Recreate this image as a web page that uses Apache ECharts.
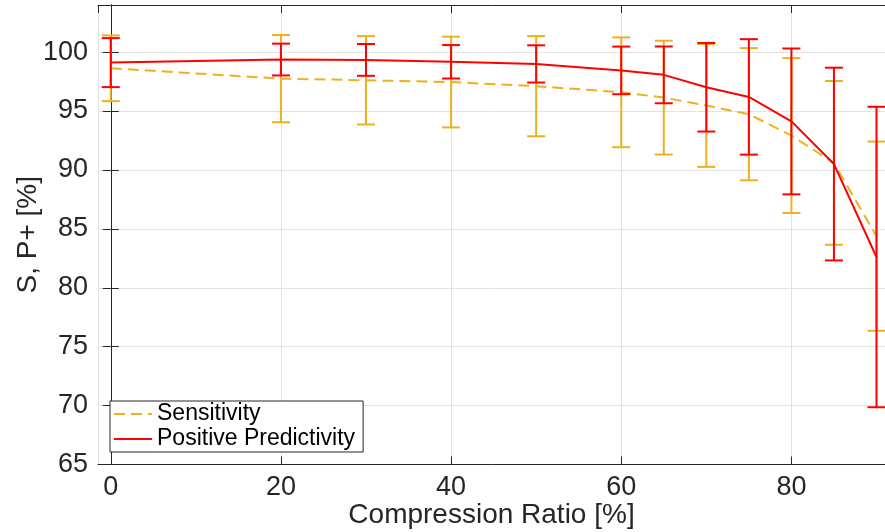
<!DOCTYPE html>
<html>
<head>
<meta charset="utf-8">
<script src="https://cdn.jsdelivr.net/npm/echarts@6/dist/echarts.min.js"></script>
<style>
  html, body { margin: 0; padding: 0; background: #fff; }
  #chart { width: 885px; height: 532px; }
</style>
</head>
<body>
<div id="chart"></div>
<script>
// Compression ratio (%) at which each detector run was evaluated
const compressionRatio = [0, 20, 30, 40, 50, 60, 65, 70, 75, 80, 85, 90];

// Sensitivity: mean and standard deviation (%)
const sensitivityMean = [98.63, 97.75, 97.61, 97.46, 97.11, 96.59, 96.14, 95.47, 94.73, 92.92, 90.6, 84.38];
const sensitivityStd  = [2.79, 3.70, 3.75, 3.85, 4.25, 4.66, 4.83, 5.21, 5.61, 6.57, 6.95, 8.03];

// Positive predictivity: mean and standard deviation (%)
const ppMean = [99.11, 99.37, 99.34, 99.18, 99.0, 98.45, 98.07, 97.02, 96.2, 94.12, 90.5, 82.61];
const ppStd  = [2.08, 1.35, 1.35, 1.42, 1.58, 2.02, 2.41, 3.76, 4.9, 6.19, 8.18, 12.75];

const yTicks = [65, 70, 75, 80, 85, 90, 95, 100];

const SENS_COLOR = '#EDB120';
const PP_COLOR = '#FF0000';
const INK = '#262626';
const FONT = '"Liberation Sans", Arial, Helvetica, sans-serif';

function linePoints(means) {
  return compressionRatio.map((x, i) => [x, means[i]]);
}
function barPoints(means, stds) {
  return compressionRatio.map((x, i) => [x, means[i] - stds[i], means[i] + stds[i]]);
}

// Vertical error bar with caps at both ends
function errorBarRenderer(color) {
  return function (params, api) {
    const x = api.value(0);
    const lo = api.coord([x, api.value(1)]);
    const hi = api.coord([x, api.value(2)]);
    const half = 9;
    const style = { stroke: color, lineWidth: 2, fill: null };
    return {
      type: 'group',
      children: [
        { type: 'line', shape: { x1: lo[0], y1: lo[1], x2: hi[0], y2: hi[1] }, style },
        { type: 'line', shape: { x1: lo[0] - half, y1: lo[1], x2: lo[0] + half, y2: lo[1] }, style },
        { type: 'line', shape: { x1: hi[0] - half, y1: hi[1], x2: hi[0] + half, y2: hi[1] }, style }
      ]
    };
  };
}

const chart = echarts.init(document.getElementById('chart'), null, { renderer: 'canvas' });

const axisLine = { show: true, lineStyle: { color: INK, width: 1 } };
const tickIn = { show: true, inside: true, length: 8, lineStyle: { color: INK, width: 1 } };

chart.setOption({
  animation: false,
  backgroundColor: '#fff',
  textStyle: { fontFamily: FONT },
  grid: { left: 98, top: 5, width: 787, height: 459.5, containLabel: false, outerBoundsMode: 'none' },
  legend: {
    left: 110,
    top: 401,
    orient: 'vertical',
    data: ['Sensitivity', 'Positive Predictivity'],
    backgroundColor: '#fff',
    borderColor: INK,
    borderWidth: 1,
    borderRadius: 0,
    padding: [1, 8, 1, 3],
    itemWidth: 38,
    itemHeight: 14,
    itemGap: 1,
    itemStyle: { opacity: 0 },
    textStyle: { fontSize: 23, color: '#000', fontFamily: FONT, lineHeight: 24 }
  },
  xAxis: [
    {
      type: 'value',
      min: -1.5,
      max: 91,
      minInterval: 20,
      maxInterval: 20,
      position: 'bottom',
      name: 'Compression Ratio [%]',
      nameLocation: 'middle',
      nameGap: 37,
      nameMoveOverlap: false,
      nameTextStyle: { fontSize: 28, color: INK, fontFamily: FONT },
      axisLine,
      axisTick: tickIn,
      axisLabel: { fontSize: 27, color: INK, margin: 10, showMinLabel: false, showMaxLabel: false, fontFamily: FONT },
      splitLine: { show: true, lineStyle: { color: '#e3e3e3', width: 1 } }
    },
    {
      type: 'value',
      min: -1.5,
      max: 91,
      minInterval: 20,
      maxInterval: 20,
      position: 'top',
      axisLine,
      axisTick: tickIn,
      axisLabel: { show: false },
      splitLine: { show: false }
    }
  ],
  yAxis: [
    {
      type: 'value',
      min: yTicks[0],
      max: 104,
      interval: 5,
      position: 'left',
      name: 'S, P+ [%]',
      nameLocation: 'middle',
      nameGap: 56,
      nameMoveOverlap: false,
      nameTextStyle: { fontSize: 28, color: INK, fontFamily: FONT },
      axisLine,
      axisTick: tickIn,
      axisLabel: { fontSize: 27, color: INK, margin: 10, showMaxLabel: false, fontFamily: FONT },
      splitLine: { show: true, lineStyle: { color: '#e3e3e3', width: 1 } }
    },
    {
      type: 'value',
      min: yTicks[0],
      max: 104,
      interval: 5,
      position: 'right',
      axisLine,
      axisTick: tickIn,
      axisLabel: { show: false },
      splitLine: { show: false }
    }
  ],
  series: [
    {
      name: 'Sensitivity bars',
      type: 'custom',
      renderItem: errorBarRenderer(SENS_COLOR),
      encode: { x: 0, y: [1, 2] },
      data: barPoints(sensitivityMean, sensitivityStd),
      z: 2
    },
    {
      name: 'Sensitivity',
      type: 'line',
      data: linePoints(sensitivityMean),
      symbol: 'none',
      color: SENS_COLOR,
      lineStyle: { color: SENS_COLOR, width: 2, type: [11, 6] },
      z: 3
    },
    {
      name: 'Positive Predictivity bars',
      type: 'custom',
      renderItem: errorBarRenderer(PP_COLOR),
      encode: { x: 0, y: [1, 2] },
      data: barPoints(ppMean, ppStd),
      z: 4
    },
    {
      name: 'Positive Predictivity',
      type: 'line',
      data: linePoints(ppMean),
      symbol: 'none',
      color: PP_COLOR,
      lineStyle: { color: PP_COLOR, width: 2 },
      z: 5
    }
  ]
});
</script>
</body>
</html>
